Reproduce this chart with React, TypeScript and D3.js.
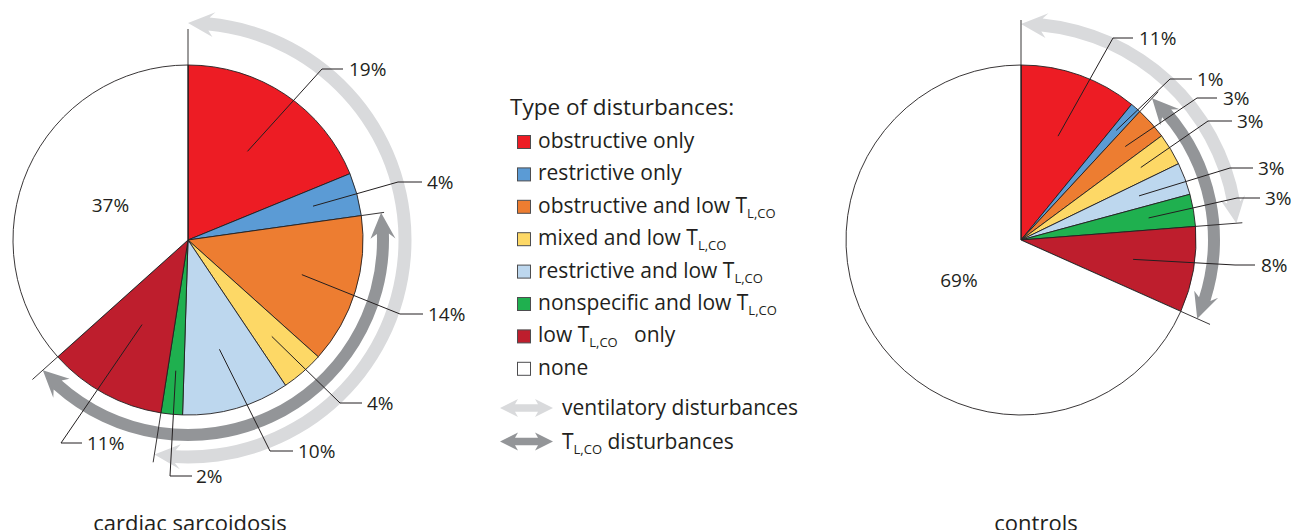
import * as d3 from "d3";

const W = 1294;
const H = 530;

const CATEGORIES = [
  "obstructive only",
  "restrictive only",
  "obstructive and low T_{L,CO}",
  "mixed and low T_{L,CO}",
  "restrictive and low T_{L,CO}",
  "nonspecific and low T_{L,CO}",
  "low T_{L,CO}   only",
  "none",
];

const COLORS = [
  "#ed1c24",
  "#5b9bd5",
  "#ed7d31",
  "#fdd866",
  "#bdd7ee",
  "#1fb04f",
  "#be1e2d",
  "#ffffff",
];

const SARCOIDOSIS = [19, 4, 14, 4, 10, 2, 11, 37];
const CONTROLS = [11, 1, 3, 3, 3, 3, 8, 69];
const GROUPS = ["cardiac sarcoidosis", "controls"];
const ARROW_LABELS = ["ventilatory disturbances", "T_{L,CO} disturbances"];

const LIGHT = "#d9dadc";
const DARK = "#939598";
const INK = "#231f20";
const FONT = "'Open Sans', 'Noto Sans', sans-serif";

const R = 175;

// per slice: [anchor radius fraction, elbow dx, elbow dy, line end dx, text dx]
type Leader = [number, number, number, number, number] | null;

interface PieLayout {
  cx: number;
  cy: number;
  values: number[];
  title: string;
  titleX: number;
  leaders: Leader[];
  noneR: number;
  // [boundary index, outer radius]
  ticks: [number, number][];
  // [from boundary, to boundary, radius, band width, colour]
  arrows: [number, number, number, number, string][];
}

const PIES: PieLayout[] = [
  {
    cx: 188,
    cy: 240,
    values: SARCOIDOSIS,
    title: GROUPS[0],
    titleX: 190,
    leaders: [
      [0.61, 134, -171, 155, 161],
      [0.74, 210, -58, 234, 239],
      [0.68, 212, 74, 235, 240],
      [0.73, 152, 163, 174, 179],
      [0.65, 82, 211, 105, 110],
      [0.75, -18, 236, 4, 8],
      [0.55, -127, 203, -106, -101],
      null,
    ],
    noneR: 85,
    ticks: [
      [0, 211],
      [2, 198],
      [6, 225],
      [7, 209],
    ],
    arrows: [
      [0, 6, 217, 13, LIGHT],
      [2, 7, 195, 12, DARK],
    ],
  },
  {
    cx: 1021,
    cy: 240,
    values: CONTROLS,
    title: GROUPS[1],
    titleX: 1036,
    leaders: [
      [0.63, 92, -202, 112, 118],
      [0.83, 149, -161, 171, 176],
      [0.8, 176, -142, 196, 202],
      [0.8, 187, -119, 211, 216],
      [0.72, 209, -72, 232, 237],
      [0.74, 216, -42, 239, 244],
      [0.65, 214, 25, 234, 240],
      null,
    ],
    noneR: 74,
    ticks: [
      [0, 220],
      [2, 202],
      [6, 222],
      [7, 207],
    ],
    arrows: [
      [0, 6, 216, 13, LIGHT],
      [2, 7, 193, 12, DARK],
    ],
  },
];

function polar(cx: number, cy: number, a: number, r: number): [number, number] {
  return [cx + r * Math.sin(a), cy - r * Math.cos(a)];
}

// curved double-headed arrow along a circle
function arcArrow(cx: number, cy: number, a0: number, a1: number, r: number, w: number) {
  const L = 26;
  const HW = 12.5;
  const notch = 5;
  const dh = L / r;
  const ds = (L - notch) / r;
  const p = d3.path();
  const P = (a: number, rr: number) => polar(cx, cy, a, rr);
  p.moveTo(...P(a0, r));
  p.lineTo(...P(a0 + dh, r + HW));
  p.lineTo(...P(a0 + ds, r + w / 2));
  p.arc(cx, cy, r + w / 2, a0 + ds - Math.PI / 2, a1 - ds - Math.PI / 2, false);
  p.lineTo(...P(a1 - dh, r + HW));
  p.lineTo(...P(a1, r));
  p.lineTo(...P(a1 - dh, r - HW));
  p.lineTo(...P(a1 - ds, r - w / 2));
  p.arc(cx, cy, r - w / 2, a1 - ds - Math.PI / 2, a0 + ds - Math.PI / 2, true);
  p.lineTo(...P(a0 + dh, r - HW));
  p.closePath();
  return p.toString();
}

function flatArrow(x0: number, x1: number, cy: number) {
  const L = 18;
  const HH = 9;
  const hw = 3.8;
  const n = 3;
  const pts: [number, number][] = [
    [x0, cy],
    [x0 + L, cy - HH],
    [x0 + L - n, cy - hw],
    [x1 - L + n, cy - hw],
    [x1 - L, cy - HH],
    [x1, cy],
    [x1 - L, cy + HH],
    [x1 - L + n, cy + hw],
    [x0 + L - n, cy + hw],
    [x0 + L, cy + HH],
  ];
  return d3.line()(pts) + "Z";
}

function Rich({ s, subSize = 13, shift = 5 }: { s: string; subSize?: number; shift?: number }) {
  const parts = s.split(/_\{([^}]*)\}/);
  return (
    <>
      {parts.map((t, i) =>
        i % 2 === 1 ? (
          <tspan key={i} fontSize={subSize} dy={shift}>
            {t}
          </tspan>
        ) : (
          <tspan key={i} dy={i > 0 ? -shift : 0}>
            {t}
          </tspan>
        )
      )}
    </>
  );
}

function Pie({ layout }: { layout: PieLayout }) {
  const { cx, cy, values } = layout;
  const arcs = d3
    .pie<number>()
    .sort(null)
    .value((d) => d)(values);
  const arc = d3.arc<d3.PieArcDatum<number>>().innerRadius(0).outerRadius(R);
  const bounds = [arcs[0].startAngle, ...arcs.map((a) => a.endAngle)];
  const line = d3.line();

  return (
    <g>
      {layout.arrows.map(([b0, b1, r, w, c], i) => (
        <path key={"ar" + i} d={arcArrow(cx, cy, bounds[b0], bounds[b1], r, w)} fill={c} />
      ))}
      <g transform={`translate(${cx},${cy})`}>
        {arcs.map((a, i) => (
          <path
            key={i}
            d={arc(a) ?? ""}
            fill={COLORS[i]}
            stroke={INK}
            strokeWidth={0.9}
            strokeLinejoin="round"
          />
        ))}
      </g>
      {layout.ticks.map(([b, r], i) => {
        const p0 = polar(cx, cy, bounds[b], b === 0 ? 0 : R);
        const p1 = polar(cx, cy, bounds[b], r);
        return <path key={"t" + i} d={line([p0, p1]) ?? ""} stroke={INK} strokeWidth={0.9} fill="none" />;
      })}
      {arcs.map((a, i) => {
        const ld = layout.leaders[i];
        const label = `${values[i]}%`;
        const mid = (a.startAngle + a.endAngle) / 2;
        if (!ld) {
          const [tx, ty] = polar(cx, cy, mid, layout.noneR);
          return (
            <text key={"l" + i} x={tx} y={ty} dy="0.36em" textAnchor="middle" fontSize={19} fill={INK}>
              {label}
            </text>
          );
        }
        const [fr, ex, ey, endX, tx] = ld;
        const p0 = polar(cx, cy, mid, fr * R);
        const pts: [number, number][] = [p0, [cx + ex, cy + ey], [cx + endX, cy + ey]];
        return (
          <g key={"l" + i}>
            <path d={line(pts) ?? ""} stroke={INK} strokeWidth={1} fill="none" />
            <text x={cx + tx} y={cy + ey} dy="0.36em" fontSize={19} fill={INK}>
              {label}
            </text>
          </g>
        );
      })}
      <text x={layout.titleX} y={531} textAnchor="middle" fontSize={22} fill={INK}>
        {layout.title}
      </text>
    </g>
  );
}

function Legend() {
  const x = 510;
  const y0 = 148;
  const step = 32.4;
  return (
    <g fill={INK} style={{ whiteSpace: "pre" }}>
      <text x={x} y={115} fontSize={22.5}>
        Type of disturbances:
      </text>
      {CATEGORIES.map((c, i) => {
        const y = y0 + i * step;
        return (
          <g key={c}>
            <rect x={517.5} y={y - 12.5} width={13} height={13} fill={COLORS[i]} stroke="#4d4d4f" strokeWidth={1} />
            <text x={538} y={y} fontSize={21} xmlSpace="preserve">
              <Rich s={c} />
            </text>
          </g>
        );
      })}
      {ARROW_LABELS.map((t, i) => {
        const cy = 408 + i * 33.5;
        return (
          <g key={t}>
            <path d={flatArrow(500, 553, cy)} fill={i === 0 ? LIGHT : DARK} />
            <text x={562} y={cy + 7} fontSize={21} xmlSpace="preserve">
              <Rich s={t} />
            </text>
          </g>
        );
      })}
    </g>
  );
}

export default function App() {
  return (
    <svg
      width={W}
      height={H}
      viewBox={`0 0 ${W} ${H}`}
      style={{ position: "absolute", left: 0, top: 0, background: "#fff", fontFamily: FONT }}
    >
      <rect width={W} height={H} fill="#fff" />
      {PIES.map((p) => (
        <Pie key={p.title} layout={p} />
      ))}
      <Legend />
    </svg>
  );
}
